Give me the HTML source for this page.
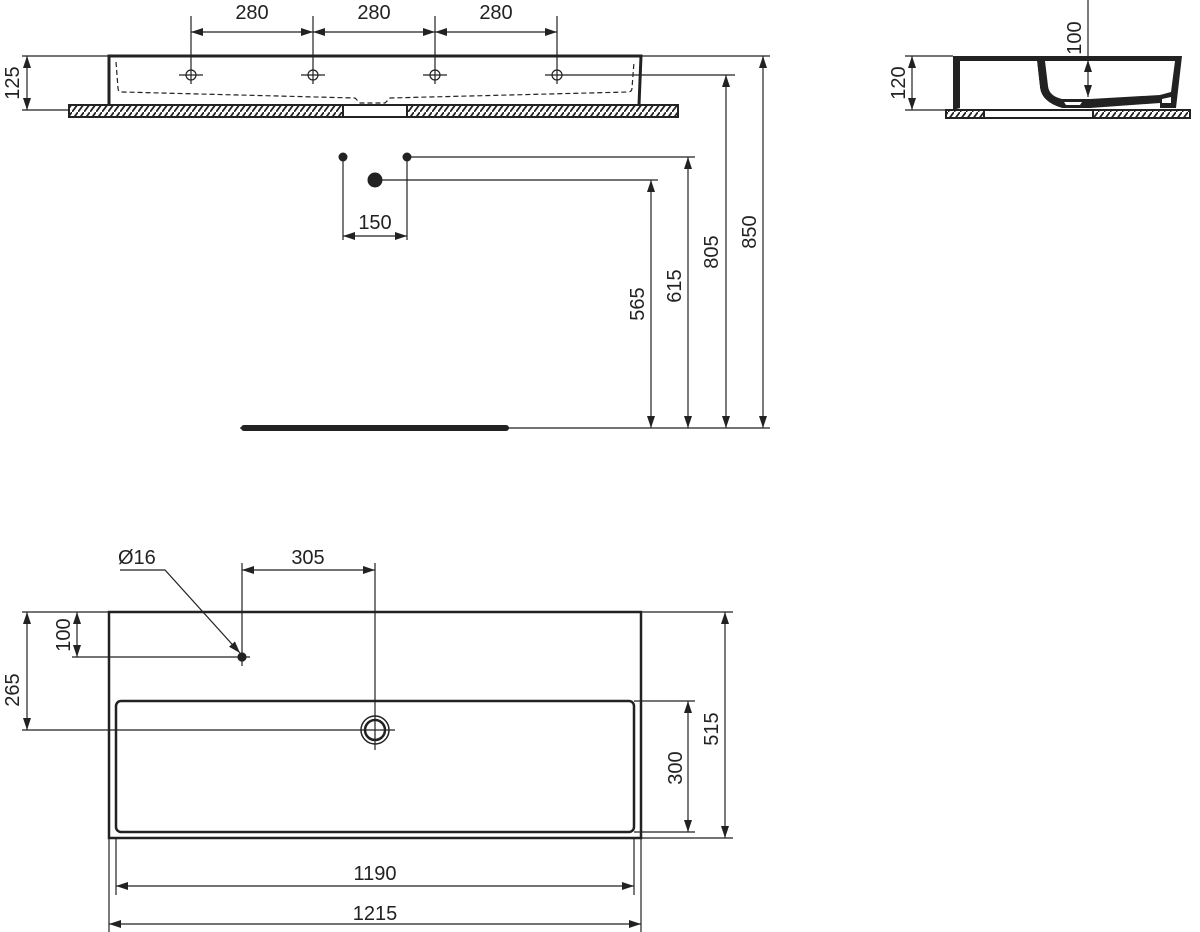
<!DOCTYPE html>
<html><head><meta charset="utf-8"><style>
html,body{margin:0;padding:0;background:#fff;}
svg{display:block;}
text{font-family:"Liberation Sans",sans-serif;font-size:20px;fill:#222;}
</style></head><body>
<svg width="1200" height="932" viewBox="0 0 1200 932" xmlns="http://www.w3.org/2000/svg">
<defs>
<marker id="a" viewBox="0 0 12 8" refX="12" refY="4" markerWidth="12" markerHeight="8" orient="auto-start-reverse" markerUnits="userSpaceOnUse"><path d="M0,0L12,4L0,8z" fill="#222"/></marker>
<pattern id="h" width="6" height="8" patternUnits="userSpaceOnUse"><rect width="6" height="8" fill="#fff"/><path d="M0,8L6,0" stroke="#222" stroke-width="1.8"/></pattern>
</defs>
<g stroke="#222" fill="none" stroke-width="1.2">
<!-- TOP ELEVATION -->
<rect x="69" y="105" width="274" height="12" fill="url(#h)" stroke-width="2"/>
<rect x="343" y="105" width="64" height="12" stroke-width="2"/>
<rect x="407" y="105" width="271" height="12" fill="url(#h)" stroke-width="2"/>
<path d="M109,105 L109,56 L641,56 L639,105" stroke-width="3"/>
<path d="M116,62 L118,88 Q118,92 122,92 L355,98 L360,103 L385,103 L390,98 L628,92 Q632,92 632,88 L634,62" stroke-dasharray="5,3"/>
<line x1="22" y1="56" x2="109" y2="56"/><line x1="22" y1="110" x2="69" y2="110"/>
<line x1="27" y1="56" x2="27" y2="110" marker-start="url(#a)" marker-end="url(#a)"/>
<line x1="641" y1="56" x2="770" y2="56"/>
<g>
<line x1="191" y1="16" x2="191" y2="84"/><line x1="313" y1="16" x2="313" y2="84"/><line x1="435" y1="16" x2="435" y2="84"/><line x1="557" y1="16" x2="557" y2="84"/>
<circle cx="191" cy="75" r="5"/><circle cx="313" cy="75" r="5"/><circle cx="435" cy="75" r="5"/><circle cx="557" cy="75" r="5"/>
<line x1="179" y1="75" x2="203" y2="75"/><line x1="301" y1="75" x2="325" y2="75"/><line x1="423" y1="75" x2="447" y2="75"/><line x1="545" y1="75" x2="735" y2="75"/>
</g>
<line x1="191" y1="32" x2="313" y2="32" marker-start="url(#a)" marker-end="url(#a)"/>
<line x1="313" y1="32" x2="435" y2="32" marker-start="url(#a)" marker-end="url(#a)"/>
<line x1="435" y1="32" x2="557" y2="32" marker-start="url(#a)" marker-end="url(#a)"/>
<!-- taps -->
<line x1="343" y1="157" x2="343" y2="240"/><line x1="407" y1="157" x2="407" y2="240"/>
<line x1="407" y1="157" x2="695" y2="157"/><line x1="375" y1="180" x2="658" y2="180"/>
<line x1="343" y1="236" x2="407" y2="236" marker-start="url(#a)" marker-end="url(#a)"/>
<line x1="651" y1="180" x2="651" y2="428" marker-start="url(#a)" marker-end="url(#a)"/>
<line x1="688" y1="157" x2="688" y2="428" marker-start="url(#a)" marker-end="url(#a)"/>
<line x1="726" y1="75" x2="726" y2="428" marker-start="url(#a)" marker-end="url(#a)"/>
<line x1="763" y1="56" x2="763" y2="428" marker-start="url(#a)" marker-end="url(#a)"/>
<line x1="240" y1="428" x2="770" y2="428"/>
<line x1="244" y1="428" x2="506" y2="428" stroke-width="6" stroke-linecap="round"/>
<!-- SIDE VIEW -->
<rect x="946" y="110" width="38" height="8" fill="url(#h)" stroke-width="2"/>
<rect x="984" y="110" width="109" height="8" stroke-width="2"/>
<rect x="1093" y="110" width="97" height="8" fill="url(#h)" stroke-width="2"/>
<path d="M953,110 L953,56 L1182,56 L1176,108 L1160,108 L1160,103 L1090,108 L1062,108 Q1042,102 1040,88 L1037,61 L960,61 L960,108 Z" fill="#222" stroke="none"/>
<path d="M962,61 L970,61 L965,104 L962,104 Z" fill="#fff" stroke="none"/>
<path d="M974,61 L1037,61 L1040,88 Q1042,102 1062,108 L972,108 L968,106 Z" fill="#fff" stroke="none"/>
<path d="M1045,61 L1175,61 L1171,92 L1160,95 L1090,99 L1062,99 Q1049,96 1048,86 Z" fill="#fff" stroke="none"/>
<path d="M1162,99 L1171,97 L1171,103 L1162,103Z M1064,102 L1082,102 L1080,105 L1066,105Z" fill="#fff" stroke="none"/>
<line x1="905" y1="56" x2="953" y2="56"/><line x1="905" y1="110" x2="946" y2="110"/>
<line x1="912" y1="56" x2="912" y2="110" marker-start="url(#a)" marker-end="url(#a)"/>
<line x1="1088" y1="0" x2="1088" y2="56"/>
<line x1="1088" y1="60" x2="1088" y2="97" marker-start="url(#a)" marker-end="url(#a)"/>
<!-- PLAN VIEW -->
<rect x="109" y="612" width="532" height="226" stroke-width="2.5"/>
<rect x="116" y="701" width="518" height="131" rx="5" stroke-width="2.5"/>
<line x1="22" y1="612" x2="109" y2="612"/><line x1="641" y1="612" x2="733" y2="612"/>
<line x1="641" y1="838" x2="733" y2="838"/><line x1="634" y1="701" x2="695" y2="701"/><line x1="634" y1="832" x2="695" y2="832"/>
<line x1="725" y1="612" x2="725" y2="838" marker-start="url(#a)" marker-end="url(#a)"/>
<line x1="688" y1="701" x2="688" y2="832" marker-start="url(#a)" marker-end="url(#a)"/>
<line x1="27" y1="612" x2="27" y2="730" marker-start="url(#a)" marker-end="url(#a)"/>
<line x1="22" y1="730" x2="395" y2="730"/>
<line x1="77" y1="612" x2="77" y2="657" marker-start="url(#a)" marker-end="url(#a)"/>
<line x1="72" y1="657" x2="250" y2="657"/>
<line x1="242" y1="563" x2="242" y2="666"/>
<line x1="375" y1="563" x2="375" y2="750"/>
<line x1="242" y1="570" x2="375" y2="570" marker-start="url(#a)" marker-end="url(#a)"/>
<circle cx="242" cy="657" r="4" fill="#222"/>
<circle cx="375" cy="730" r="14" stroke-width="1.5"/><circle cx="375" cy="730" r="10" stroke-width="2.5"/>
<path d="M120,570 L165,570 L240,653" marker-end="url(#a)"/>
<line x1="116" y1="838" x2="116" y2="895"/><line x1="634" y1="838" x2="634" y2="895"/>
<line x1="109" y1="838" x2="109" y2="932"/><line x1="641" y1="838" x2="641" y2="932"/>
<line x1="116" y1="886" x2="634" y2="886" marker-start="url(#a)" marker-end="url(#a)"/>
<line x1="109" y1="924" x2="641" y2="924" marker-start="url(#a)" marker-end="url(#a)"/>
</g>
<circle cx="343" cy="157" r="4.5" fill="#222"/><circle cx="407" cy="157" r="4.5" fill="#222"/><circle cx="375" cy="180" r="7.5" fill="#222"/>
<text x="252" y="19" text-anchor="middle">280</text>
<text x="374" y="19" text-anchor="middle">280</text>
<text x="496" y="19" text-anchor="middle">280</text>
<text x="375" y="229" text-anchor="middle">150</text>
<text transform="translate(19,83) rotate(-90)" text-anchor="middle">125</text>
<text transform="translate(644,304) rotate(-90)" text-anchor="middle">565</text>
<text transform="translate(681,286) rotate(-90)" text-anchor="middle">615</text>
<text transform="translate(718,252) rotate(-90)" text-anchor="middle">805</text>
<text transform="translate(756,232) rotate(-90)" text-anchor="middle">850</text>
<text transform="translate(905,83) rotate(-90)" text-anchor="middle">120</text>
<text transform="translate(1081,38) rotate(-90)" text-anchor="middle">100</text>
<text x="118" y="564">Ø16</text>
<text x="308" y="564" text-anchor="middle">305</text>
<text transform="translate(70,635) rotate(-90)" text-anchor="middle">100</text>
<text transform="translate(19,690) rotate(-90)" text-anchor="middle">265</text>
<text transform="translate(682,768) rotate(-90)" text-anchor="middle">300</text>
<text transform="translate(718,729) rotate(-90)" text-anchor="middle">515</text>
<text x="375" y="880" text-anchor="middle">1190</text>
<text x="375" y="920" text-anchor="middle">1215</text>
</svg>
</body></html>
